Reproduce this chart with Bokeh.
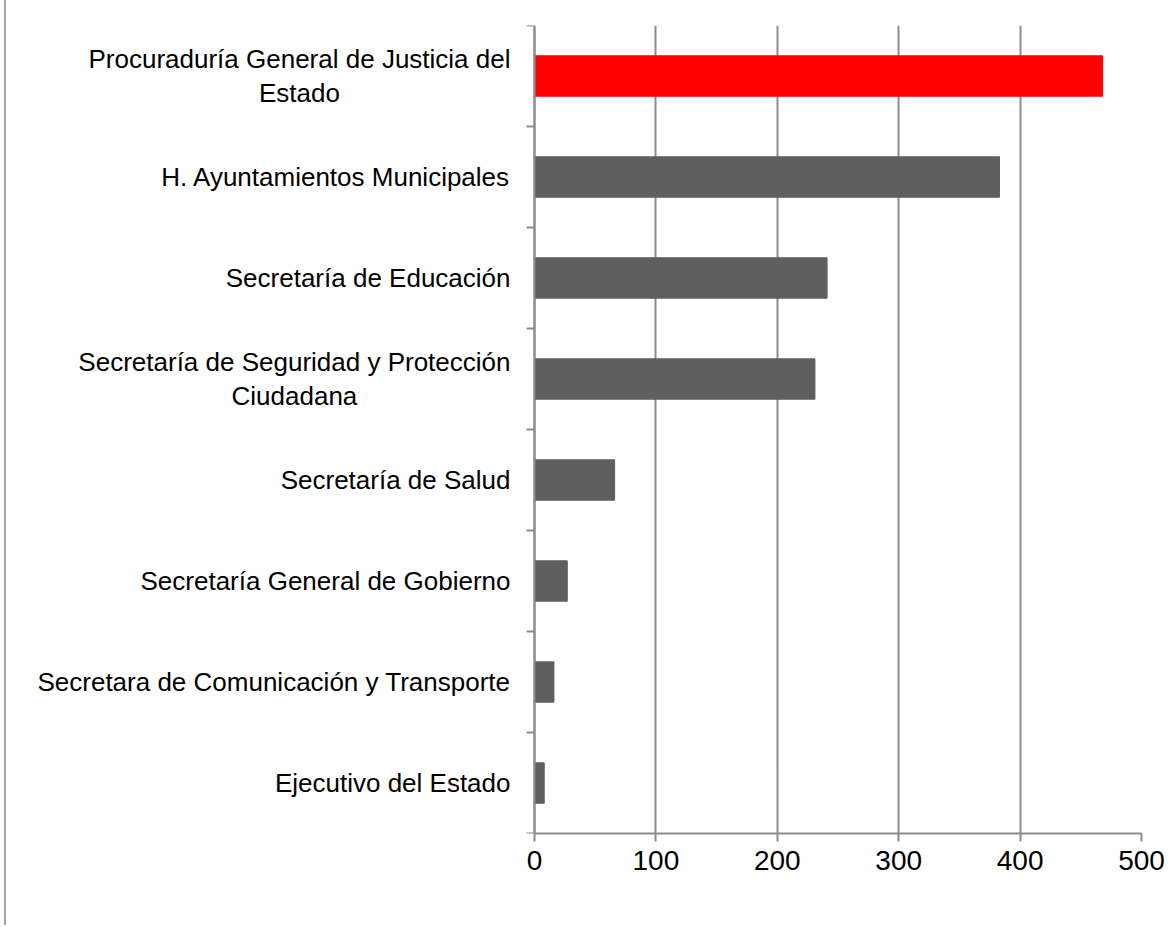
import numpy as np
from bokeh.plotting import figure
from bokeh.models import Range1d, FixedTicker, ColumnDataSource, Span
from bokeh.core.properties import value
from bokeh.embed import file_html
from bokeh.resources import INLINE

categories = [
    "Procuraduría General de Justicia del\nEstado",
    "H. Ayuntamientos Municipales",
    "Secretaría de Educación",
    "Secretaría de Seguridad y Protección\nCiudadana",
    "Secretaría de Salud",
    "Secretaría General de Gobierno",
    "Secretara de Comunicación y Transporte",
    "Ejecutivo del Estado",
]
values = [468, 383, 241, 231, 66, 27, 16, 8]
bar_colors = ["#ff0000", "#5f5f5f", "#5f5f5f", "#5f5f5f", "#5f5f5f", "#5f5f5f", "#5f5f5f", "#5f5f5f"]
x_ticks = [0, 100, 200, 300, 400, 500]

n = len(categories)
ypos = [n - i - 0.5 for i in range(n)]
bounds_y = list(range(n + 1))

# layout (pixels)
frame_left_px = 10
zero_px = 534
right_px = 1141
px_per_unit = (right_px - zero_px) / 500
xmin = -(zero_px - frame_left_px) / px_per_unit

src = ColumnDataSource(dict(y=ypos, v=values, c=bar_colors, label=categories))

p = figure(
    output_backend="svg", toolbar_location=None,
    x_range=Range1d(xmin, 500), y_range=Range1d(0, n),
    y_axis_location=None,
    frame_width=right_px - frame_left_px, frame_height=808,
    min_border_left=4, min_border_top=25, min_border_right=30, min_border_bottom=92,
)
p.outline_line_color = None
p.styles = {"border-left": "2px solid #a6a6a6", "margin-left": "4px"}

font = "Liberation Sans"
gray = "#8c8c8c"

p.xgrid.ticker = FixedTicker(ticks=x_ticks)
p.xgrid.grid_line_color = gray
p.xgrid.grid_line_width = 2
p.xgrid.bounds = (0, 500)
p.ygrid.grid_line_color = None

p.hbar(y="y", left=0, right="v", height=0.4, color="c", source=src)

# y axis line at x = 0 and boundary ticks
p.add_layout(Span(location=0, dimension="height", line_color=gray, line_width=2))
p.ray(x=0, y=bounds_y, length=8, length_units="screen", angle=np.pi,
      line_color=gray, line_width=2)

# category labels
p.text(x=0, y="y", text="label", source=src, x_offset=-24,
       anchor="center_right", text_align="center", text_baseline="middle",
       text_font=value(font), text_font_size="26px", text_color="black",
       text_line_height=1.12)

xa = p.xaxis[0]
xa.ticker = FixedTicker(ticks=x_ticks)
xa.bounds = (0, 500)
xa.axis_line_color = gray
xa.axis_line_width = 2
xa.major_tick_line_color = gray
xa.major_tick_line_width = 2
xa.major_tick_out = 8
xa.major_tick_in = 0
xa.minor_tick_line_color = None
xa.major_label_text_font = font
xa.major_label_text_font_size = "28px"
xa.major_label_text_color = "black"
xa.major_label_standoff = 9

open("out.html", "w").write(file_html(p, INLINE))
